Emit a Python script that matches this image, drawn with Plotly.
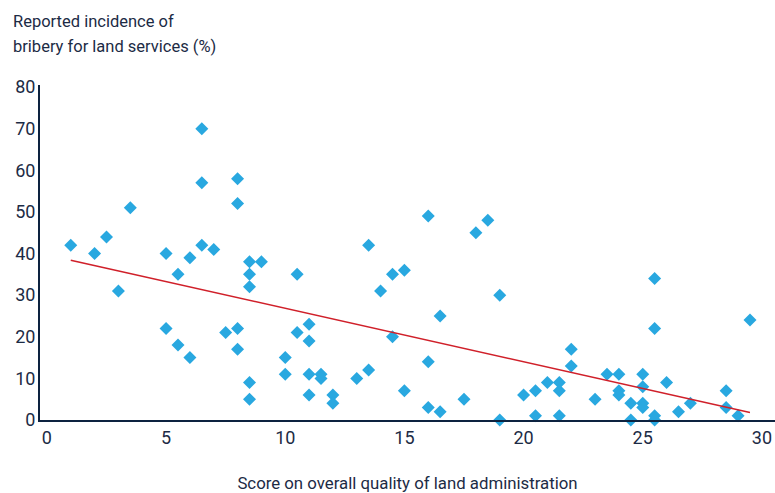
import plotly.graph_objects as go

# Data
score = [1, 2, 2.5, 3, 3.5, 5, 5, 5.5, 5.5, 6, 6, 6.5, 6.5, 6.5, 7, 7.5,
         8, 8, 8, 8, 8.5, 8.5, 8.5, 8.5, 8.5, 9, 10.5, 10, 10, 10.5, 11, 11,
         11, 11, 11.5, 11.5, 12, 12, 13, 13.5, 13.5, 14, 14.5, 14.5, 15, 15,
         16, 16, 16, 16.5, 16.5, 17.5, 18, 18.5, 19, 19, 20, 20.5, 20.5, 21,
         21.5, 21.5, 21.5, 22, 22, 23, 23.5, 24, 24, 24, 24.5, 24.5, 25, 25,
         25, 25, 25.5, 25.5, 25.5, 25.5, 26, 26.5, 27, 28.5, 28.5, 29, 29.5]
bribery = [42, 40, 44, 31, 51, 40, 22, 35, 18, 39, 15, 70, 57, 42, 41, 21,
           58, 52, 22, 17, 38, 35, 32, 9, 5, 38, 35, 15, 11, 21, 23, 19,
           11, 6, 11, 10, 6, 4, 10, 42, 12, 31, 35, 20, 36, 7,
           49, 14, 3, 25, 2, 5, 45, 48, 30, 0, 6, 7, 1, 9,
           9, 7, 1, 17, 13, 5, 11, 11, 7, 6, 4, 0, 11, 8,
           4, 3, 34, 22, 1, 0, 9, 2, 4, 7, 3, 1, 24]

trend_x = [1, 29.5]
trend_y = [38.4, 1.8]

x_ticks = [0, 5, 10, 15, 20, 25, 30]
y_ticks = [0, 10, 20, 30, 40, 50, 60, 70, 80]

TEXT = "#1c2b45"
AXIS = "#0d2340"
FONT = "Roboto"

fig = go.Figure()
fig.add_trace(go.Scatter(
    x=score, y=bribery, mode="markers",
    marker=dict(symbol="diamond", size=10, color="#29a8e0"),
    hoverinfo="x+y", showlegend=False, cliponaxis=False,
))
fig.add_trace(go.Scatter(
    x=trend_x, y=trend_y, mode="lines",
    line=dict(color="#d0202a", width=1.6),
    showlegend=False, hoverinfo="skip",
))

fig.update_layout(
    width=775, height=493,
    margin=dict(l=40, r=0, t=85, b=73),
    paper_bgcolor="white", plot_bgcolor="white",
    font=dict(family=FONT, color=TEXT, size=16),
    xaxis=dict(
        range=[-0.29, 30.55], tickvals=x_ticks, showgrid=False, zeroline=False,
        showline=True, linecolor=AXIS, linewidth=2, ticks="", automargin=False,
        tickfont=dict(size=18, color=TEXT),
        title=dict(text="Score on overall quality of land administration",
                   font=dict(size=16.8, color=TEXT), standoff=31),
    ),
    yaxis=dict(
        range=[0, 80.5], tickvals=y_ticks, showgrid=False, zeroline=False,
        showline=True, linecolor=AXIS, linewidth=2, ticks="", automargin=False,
        tickfont=dict(size=18, color=TEXT), ticklabelstandoff=-1,
    ),
    annotations=[
        dict(text="Reported incidence of", xref="paper", yref="paper",
             x=-29/735, y=1 + (85-21)/335, xanchor="left", yanchor="middle",
             showarrow=False, font=dict(size=16.5, color=TEXT)),
        dict(text="bribery for land services (%)", xref="paper", yref="paper",
             x=-29/735, y=1 + (85-46)/335, xanchor="left", yanchor="middle",
             showarrow=False, font=dict(size=16.5, color=TEXT)),
    ],
)

fig.write_html("out.html",
               config={"displayModeBar": False},
               post_script="document.body.style.margin='0';document.body.style.overflow='hidden';")
